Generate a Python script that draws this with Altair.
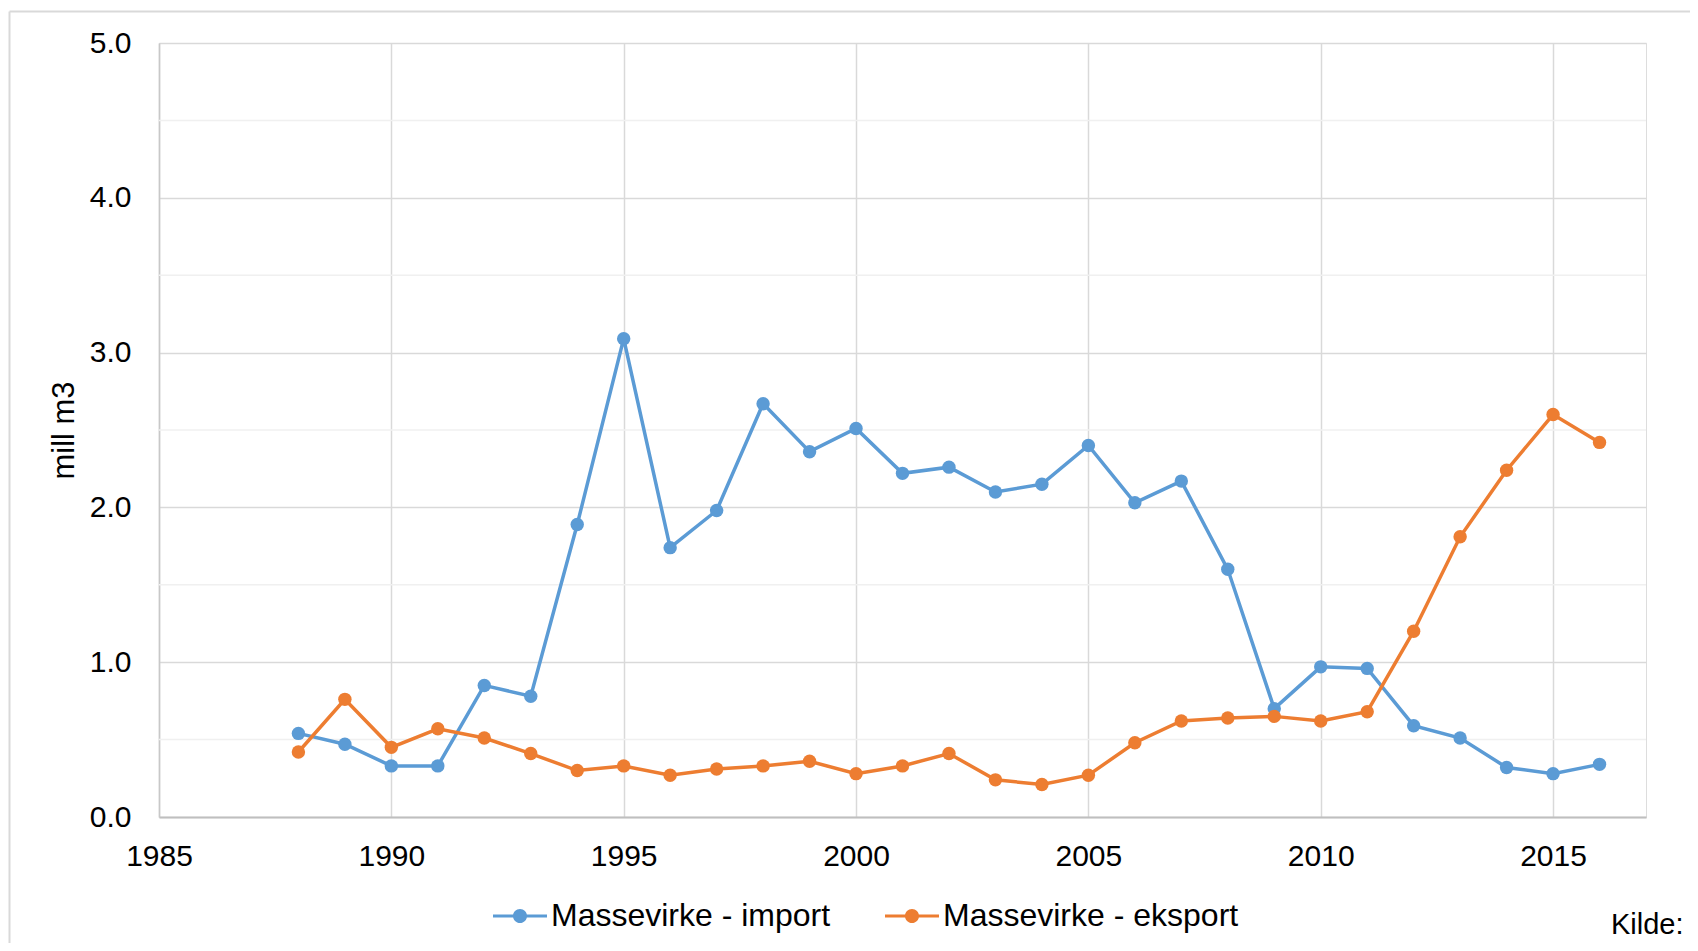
import altair as alt
import pandas as pd

years = list(range(1988, 2017))
import_vals = [0.54, 0.47, 0.33, 0.33, 0.85, 0.78, 1.89, 3.09, 1.74, 1.98,
               2.67, 2.36, 2.51, 2.22, 2.26, 2.10, 2.15, 2.40, 2.03, 2.17,
               1.60, 0.70, 0.97, 0.96, 0.59, 0.51, 0.32, 0.28, 0.34]
export_vals = [0.42, 0.76, 0.45, 0.57, 0.51, 0.41, 0.30, 0.33, 0.27, 0.31,
               0.33, 0.36, 0.28, 0.33, 0.41, 0.24, 0.21, 0.27, 0.48, 0.62,
               0.64, 0.65, 0.62, 0.68, 1.20, 1.81, 2.24, 2.60, 2.42]
series_names = ["Massevirke - import", "Massevirke - eksport"]
series_colors = ["#5B9BD5", "#ED7D31"]
x_ticks = [1985, 1990, 1995, 2000, 2005, 2010, 2015]
y_ticks = [0, 1, 2, 3, 4, 5]
minor_grid = [0.5, 1.5, 2.5, 3.5, 4.5]
source_text = "Kilde:"

rows = []
for name, vals in zip(series_names, [import_vals, export_vals]):
    for yr, v in zip(years, vals):
        rows.append({"year": yr, "value": v, "series": name})
df = pd.DataFrame(rows)

FONT = "Liberation Sans"
W, H = 1487, 774

xscale = alt.Scale(domain=[1985, 2017], nice=False, zero=False)
yscale = alt.Scale(domain=[0, 5], nice=False)
cscale = alt.Scale(domain=series_names, range=series_colors)

sym = "M-1,-0.06H1V0.06H-1Z M0.26,0A0.26,0.26 0 1,1 -0.26,0A0.26,0.26 0 1,1 0.26,0Z"

xaxis = alt.Axis(values=x_ticks, format="d", title=None, ticks=False, tickSize=0,
                 labelPadding=24, labelFontSize=30, labelFont=FONT, labelColor="#000000",
                 labelFlush=False, grid=True, gridColor="#D9D9D9", gridWidth=1.5,
                 domainColor="#BFBFBF", domainWidth=2)
yaxis = alt.Axis(values=y_ticks, format=".1f", title="mill m3", ticks=False, tickSize=0,
                 labelPadding=28, labelFontSize=30, labelFont=FONT, labelColor="#000000",
                 titleFontSize=31, titleFont=FONT, titleFontWeight="normal",
                 titleColor="#000000", titlePadding=9,
                 grid=True, gridColor="#D9D9D9", gridWidth=1.5,
                 domainColor="#C8C8C8", domainWidth=1.5)

legend = alt.Legend(
    title=None, orient="none", legendX=334, legendY=846,
    direction="horizontal", symbolType=sym, symbolSize=2916,
    symbolStrokeWidth=0, labelFontSize=32, labelFont=FONT, labelLimit=0,
    labelColor="#000000", columnPadding=54, labelOffset=4, padding=0,
)

minor = alt.Chart(pd.DataFrame({"v": minor_grid})).mark_rule(
    color="#F0F0F0", strokeWidth=1.5
).encode(y=alt.Y("v:Q", scale=yscale, axis=yaxis))

base = alt.Chart(df)
layers = [minor]
for name, col in zip(series_names, series_colors):
    sub = base.transform_filter(alt.datum.series == name)
    line = sub.mark_line(strokeWidth=3.5, color=col).encode(
        x=alt.X("year:Q", scale=xscale, axis=xaxis),
        y=alt.Y("value:Q", scale=yscale, axis=yaxis),
    )
    pts = sub.mark_point(filled=True, size=180, opacity=1).encode(
        x=alt.X("year:Q", scale=xscale, axis=xaxis),
        y=alt.Y("value:Q", scale=yscale, axis=yaxis),
        color=alt.Color("series:N", scale=cscale, legend=legend),
    )
    layers += [line, pts]

one = alt.Data(values=[{"a": 1}])
border_top = alt.Chart(one).mark_rule(color="#D9D9D9", strokeWidth=2).encode(
    x=alt.value(-149.5), x2=alt.value(W + 60), y=alt.value(-31.5))
border_left = alt.Chart(one).mark_rule(color="#D9D9D9", strokeWidth=2).encode(
    x=alt.value(-149.5), y=alt.value(-31.5), y2=alt.value(H + 140))
kilde = alt.Chart(one).mark_text(
    align="left", baseline="alphabetic", fontSize=29, font=FONT, color="#000000"
).encode(x=alt.value(1452), y=alt.value(891), text=alt.value(source_text))

chart = alt.layer(border_top, border_left, *layers, kilde).properties(
    width=W, height=H,
    autosize=alt.AutoSizeParams(type="none"),
    padding={"left": 151, "top": 35, "right": 44, "bottom": 126},
).configure_view(stroke=None).configure(background="white")

chart.save("out.html", embed_options={"renderer": "svg", "actions": False})
